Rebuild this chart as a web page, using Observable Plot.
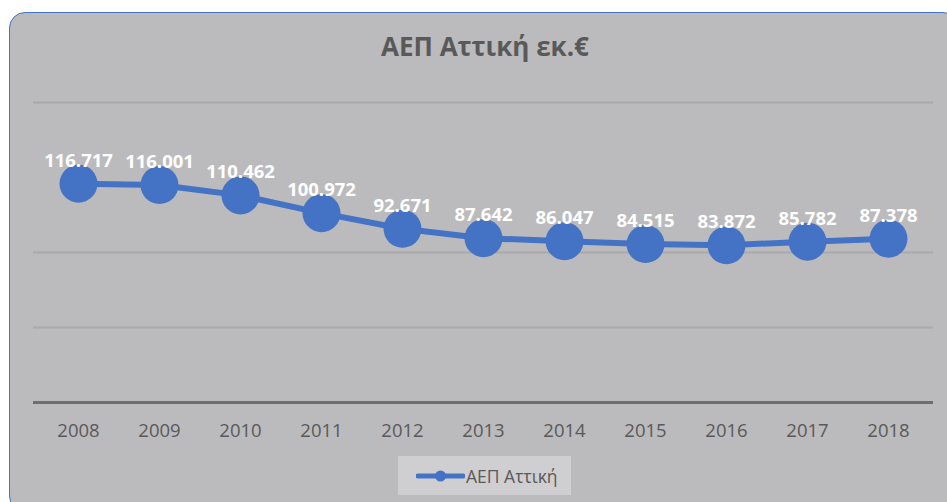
<!DOCTYPE html>
<html>
<head>
<meta charset="utf-8">
<script src="https://cdn.jsdelivr.net/npm/d3@7"></script>
<script src="https://cdn.jsdelivr.net/npm/@observablehq/plot@0.6"></script>
<style>
  html, body { margin: 0; padding: 0; background: #ffffff; }
  #page { position: relative; width: 947px; height: 502px; overflow: hidden; font-family: "Open Sans", sans-serif; }
  #box { position: absolute; left: 9px; top: 12px; width: 950px; height: 500px; background: #bbbbbd; border: 1px solid #4472c4; border-radius: 16px; box-sizing: border-box; }
  #title { position: absolute; left: 0; width: 970px; top: 28px; text-align: center; font-size: 26px; line-height: 36px; font-weight: bold; color: #595959; }
  #chart { position: absolute; left: 0; top: 0; }
  #legend { position: absolute; left: 398px; top: 456px; width: 173px; height: 39px; background: #cfcfd1; display: flex; align-items: center; font-size: 17.5px; color: #595959; }
  #legend svg { margin-left: 18px; margin-right: 1px; }
</style>
</head>
<body>
<div id="page">
  <div id="box"></div>
  <div id="title">ΑΕΠ Αττική εκ.€</div>
  <div id="chart"></div>
  <div id="legend"><svg width="49" height="12"><line x1="2" y1="6" x2="47" y2="6" stroke="#4472c4" stroke-width="5" stroke-linecap="round"/><circle cx="24.5" cy="6" r="5.5" fill="#4472c4"/></svg><span>ΑΕΠ Αττική</span></div>
</div>
<script>
const years = ["2008","2009","2010","2011","2012","2013","2014","2015","2016","2017","2018"];
const gdp = [116717, 116001, 110462, 100972, 92671, 87642, 86047, 84515, 83872, 85782, 87378];
const gridValues = [40000, 80000, 160000];
const seriesName = "ΑΕΠ Αττική";

const data = years.map((y, i) => ({year: y, value: gdp[i]}));
const locale = d3.formatLocale({decimal: ",", thousands: ".", grouping: [3], currency: ["", "€"]});
const fmt = locale.format(",d");
const blue = "#4472c4";

const chart = Plot.plot({
  width: 947,
  height: 450,
  marginLeft: 33,
  marginRight: 14,
  marginTop: 102,
  marginBottom: 48,
  style: {background: "transparent", fontFamily: "'Open Sans', sans-serif"},
  x: {type: "point", domain: years, padding: 0.5, label: null},
  y: {domain: [0, 160000], axis: null},
  marks: [
    Plot.ruleY(gridValues, {stroke: "#aaaaac", strokeWidth: 2}),
    Plot.ruleY([0], {stroke: "#6e6e6e", strokeWidth: 3}),
    Plot.axisX({tickSize: 0, tickPadding: 21, fontSize: 18.5, color: "#595959", label: null}),
    Plot.line(data, {x: "year", y: "value", stroke: blue, strokeWidth: 6}),
    Plot.dot(data, {x: "year", y: "value", r: 19, fill: blue, stroke: "none"}),
    Plot.text(data, {x: "year", y: "value", text: d => fmt(d.value), dy: -23, fill: "white", fontWeight: "bold", fontSize: 18.5})
  ]
});
document.getElementById("chart").appendChild(chart);
</script>
</body>
</html>
